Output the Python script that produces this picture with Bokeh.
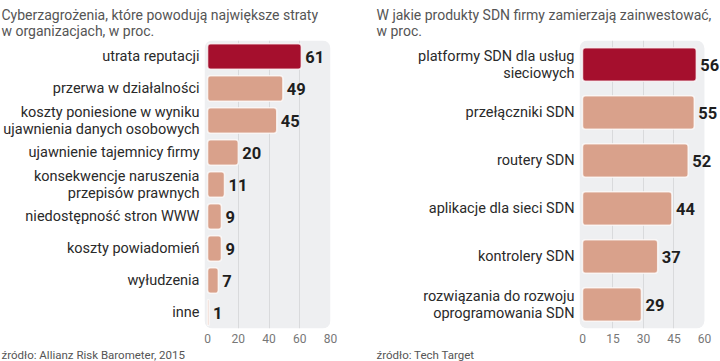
from bokeh.plotting import figure
from bokeh.models import FactorRange, Range1d, FixedTicker, BoxAnnotation, Title, ColumnDataSource
from bokeh.layouts import row
from bokeh.embed import file_html
from bokeh.resources import INLINE
from bokeh.core.properties import value

# ---- data ----
left_title = "Cyberzagrożenia, które powodują największe straty\nw organizacjach, w proc."
left_categories = [
    "utrata reputacji",
    "przerwa w działalności",
    "koszty poniesione w wyniku\nujawnienia danych osobowych",
    "ujawnienie tajemnicy firmy",
    "konsekwencje naruszenia\nprzepisów prawnych",
    "niedostępność stron WWW",
    "koszty powiadomień",
    "wyłudzenia",
    "inne",
]
left_values = [61, 49, 45, 20, 11, 9, 9, 7, 1]
left_ticks = [0, 20, 40, 60, 80]
left_source = "źródło: Allianz Risk Barometer, 2015"

right_title = "W jakie produkty SDN firmy zamierzają zainwestować,\nw proc."
right_categories = [
    "platformy SDN dla usług\nsieciowych",
    "przełączniki SDN",
    "routery SDN",
    "aplikacje dla sieci SDN",
    "kontrolery SDN",
    "rozwiązania do rozwoju\noprogramowania SDN",
]
right_values = [56, 55, 52, 44, 37, 29]
right_ticks = [0, 15, 30, 45, 60]
right_source = "źródło: Tech Target"

DARK = "#a50f2d"
SALMON = "#d9a18b"
BG = "#eeeff1"
GRID = "#d9dadc"
FONT = "Roboto"


def panel(title, cats, vals, ticks, source, width, x_range, border_left, border_right,
          title_offset, bar_height):
    p = figure(
        width=width, height=361,
        y_range=FactorRange(factors=list(reversed(cats)), range_padding=0),
        x_range=Range1d(*x_range),
        output_backend="svg", toolbar_location=None,
        min_border_top=40, min_border_right=border_right, min_border_bottom=0,
        min_border_left=border_left,
    )
    p.outline_line_color = None
    p.background_fill_color = "white"
    p.border_fill_color = "white"

    p.add_layout(BoxAnnotation(left=x_range[0], right=ticks[-1], fill_color=BG, fill_alpha=1,
                               line_color=None, border_radius=8, level="image"))

    colors = [DARK if i == 0 else SALMON for i in range(len(cats))]
    src = ColumnDataSource(dict(y=cats, v=vals, c=colors, t=[str(v) for v in vals]))
    p.hbar(y="y", left=0, right="v", height=bar_height, fill_color="c", line_color="white",
           line_alpha=0.75, line_width=1.5, border_radius=3, source=src)
    p.text(x="v", y="y", text="t", x_offset=4, text_baseline="middle", text_align="left",
           text_font=value(FONT), text_font_style="bold", text_font_size="16.5px",
           text_color="#1e1e1e", source=src)

    p.xaxis.ticker = FixedTicker(ticks=ticks)
    p.xaxis.axis_line_color = None
    p.xaxis.major_tick_line_color = None
    p.xaxis.minor_tick_line_color = None
    p.xaxis.major_tick_out = 0
    p.xaxis.major_tick_in = 0
    p.xaxis.major_label_text_font = FONT
    p.xaxis.major_label_text_font_size = "12px"
    p.xaxis.major_label_text_color = "#777777"
    p.xaxis.major_label_standoff = 5

    p.yaxis.axis_line_color = None
    p.yaxis.major_tick_line_color = None
    p.yaxis.minor_tick_line_color = None
    p.yaxis.major_tick_out = 0
    p.yaxis.major_tick_in = 0
    p.yaxis.major_label_text_font = FONT
    p.yaxis.major_label_text_font_size = "14.5px"
    p.yaxis.major_label_text_line_height = 1.0
    p.yaxis.major_label_text_color = "#2a2a2a"
    p.yaxis.major_label_standoff = 5

    p.xgrid.ticker = FixedTicker(ticks=ticks[1:-1])
    p.xgrid.grid_line_color = GRID
    p.xgrid.level = "underlay"
    p.ygrid.grid_line_color = None

    p.title = Title(text=title, align="left", offset=title_offset, text_font=FONT,
                    text_font_size="14px", text_font_style="normal", text_color="#555555",
                    standoff=4)
    p.add_layout(Title(text=source, align="left", offset=title_offset, text_font=FONT,
                       text_font_size="11.5px", text_font_style="normal", text_color="#555555",
                       standoff=0),
                 "below")
    return p


left = panel(left_title, left_categories, left_values, left_ticks, left_source,
             360, (-2, 80), 204, 30, -203, 0.8)
right = panel(right_title, right_categories, right_values, right_ticks, right_source,
              360, (-1.48, 67.9), 219, 0, -203, 0.7)

layout = row(left, right, spacing=0)
open("out.html", "w").write(file_html(layout, INLINE))
